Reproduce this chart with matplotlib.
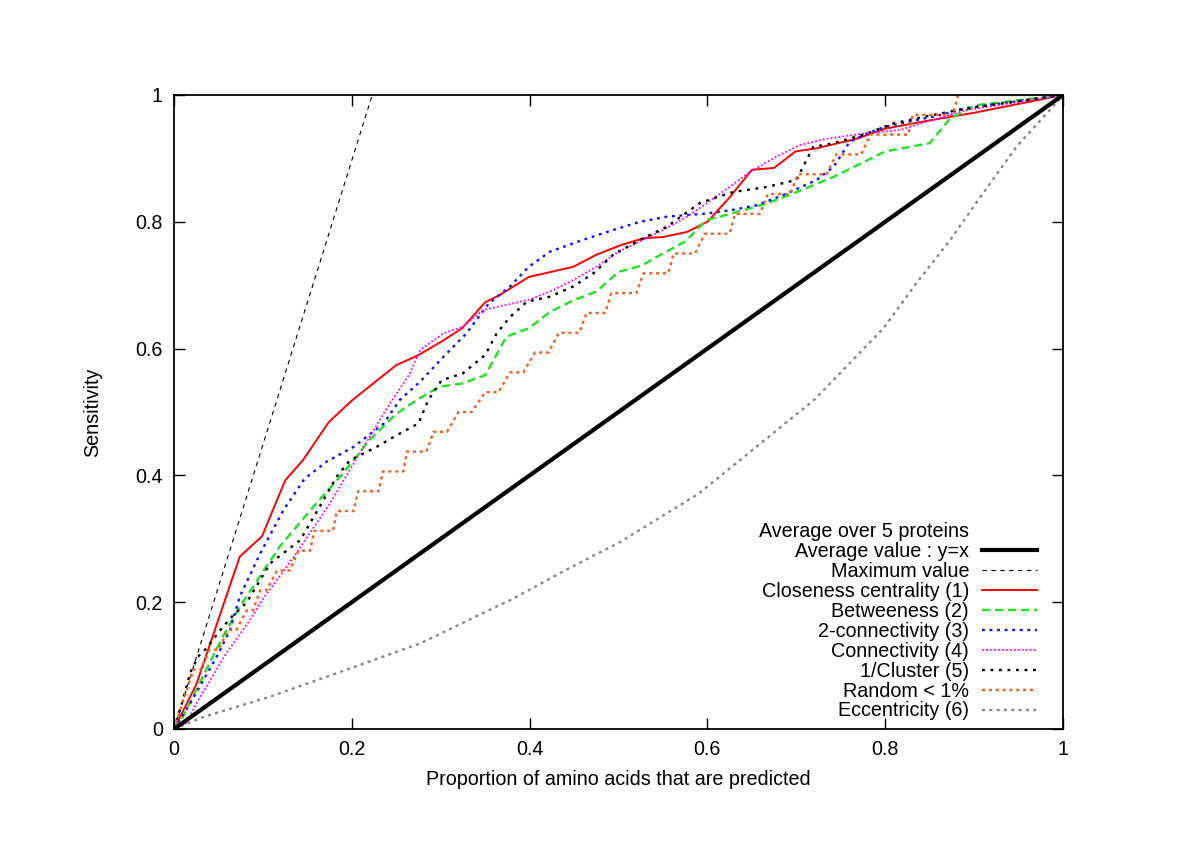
import numpy as np
import matplotlib
matplotlib.use("Agg")
import matplotlib.pyplot as plt

plt.rcParams['font.family'] = ['Liberation Sans', 'DejaVu Sans']

# data
diag_x = [0, 1]
diag_y = [0, 1]

max_x = [0, 0.223]
max_y = [0, 1.0]

close_x = [0, 0.025, 0.074, 0.099, 0.125, 0.145, 0.174, 0.2, 0.224, 0.25, 0.274, 0.303, 0.324, 0.35, 0.367,
           0.399, 0.449, 0.475, 0.502, 0.528, 0.55, 0.577, 0.6, 0.624, 0.65, 0.675, 0.699, 0.723, 0.768, 0.8,
           0.85, 0.9, 1.0]
close_y = [0, 0.07, 0.272, 0.304, 0.392, 0.424, 0.484, 0.518, 0.545, 0.574, 0.589, 0.613, 0.632, 0.673, 0.685,
           0.713, 0.729, 0.748, 0.763, 0.774, 0.776, 0.784, 0.80, 0.837, 0.882, 0.885, 0.911, 0.916, 0.931, 0.947,
           0.96, 0.972, 1.0]

betw_x = [0, 0.01, 0.025, 0.04, 0.055, 0.074, 0.119, 0.157, 0.19, 0.22, 0.25, 0.273, 0.299, 0.324, 0.35,
          0.374, 0.399, 0.423, 0.449, 0.475, 0.5, 0.526, 0.55, 0.575, 0.599, 0.622, 0.667, 0.697, 0.742, 0.8,
          0.85, 0.873, 0.903, 1.0]
betw_y = [0, 0.019, 0.062, 0.104, 0.146, 0.193, 0.288, 0.351, 0.403, 0.456, 0.497, 0.519, 0.54, 0.545, 0.558,
          0.619, 0.632, 0.658, 0.676, 0.69, 0.721, 0.731, 0.75, 0.769, 0.803, 0.811, 0.829, 0.845, 0.871, 0.911,
          0.924, 0.963, 0.984, 1.0]

conn2_x = [0, 0.018, 0.033, 0.048, 0.063, 0.074, 0.097, 0.123, 0.147, 0.172, 0.202, 0.236, 0.254, 0.277, 0.303,
           0.329, 0.354, 0.378, 0.399, 0.423, 0.453, 0.487, 0.524, 0.554, 0.599, 0.629, 0.655, 0.685, 0.723, 0.742,
           0.76, 0.779, 0.8, 0.854, 0.891, 1.0]
conn2_y = [0, 0.04, 0.077, 0.114, 0.156, 0.209, 0.277, 0.345, 0.395, 0.422, 0.445, 0.482, 0.519, 0.548, 0.587,
           0.624, 0.671, 0.698, 0.729, 0.753, 0.768, 0.784, 0.80, 0.808, 0.813, 0.819, 0.826, 0.842, 0.866, 0.887,
           0.926, 0.939, 0.95, 0.966, 0.979, 1.0]

conn_x = [0, 0.014, 0.025, 0.04, 0.059, 0.082, 0.1, 0.134, 0.175, 0.209, 0.239, 0.265, 0.277, 0.303, 0.324,
          0.348, 0.374, 0.399, 0.423, 0.449, 0.475, 0.5, 0.524, 0.55, 0.577, 0.6, 0.625, 0.648, 0.678, 0.704,
          0.734, 0.775, 0.817, 0.854, 0.891, 1.0]
conn_y = [0, 0.009, 0.04, 0.075, 0.12, 0.165, 0.205, 0.27, 0.355, 0.435, 0.505, 0.56, 0.598, 0.624, 0.634,
          0.661, 0.669, 0.677, 0.69, 0.708, 0.729, 0.753, 0.769, 0.787, 0.808, 0.83, 0.855, 0.879, 0.903, 0.921,
          0.931, 0.939, 0.945, 0.961, 0.976, 1.0]

clus_x = [0, 0.01, 0.018, 0.027, 0.037, 0.052, 0.065, 0.082, 0.108, 0.142, 0.164, 0.183, 0.198, 0.228, 0.25,
          0.275, 0.286, 0.301, 0.325, 0.35, 0.363, 0.378, 0.397, 0.423, 0.449, 0.472, 0.494, 0.524, 0.554, 0.592,
          0.629, 0.667, 0.70, 0.719, 0.742, 0.779, 0.809, 0.835, 0.891, 1.0]
clus_y = [0, 0.046, 0.088, 0.114, 0.128, 0.156, 0.177, 0.2, 0.261, 0.298, 0.351, 0.398, 0.424, 0.445, 0.463,
          0.482, 0.519, 0.55, 0.561, 0.59, 0.624, 0.65, 0.674, 0.682, 0.698, 0.719, 0.748, 0.771, 0.792, 0.83,
          0.847, 0.855, 0.866, 0.918, 0.924, 0.939, 0.955, 0.963, 0.979, 1.0]

# random curve climbs in steps of 1/32
rand_x = [0, 0.022, 0.030, 0.040, 0.050, 0.061, 0.070, 0.082, 0.089, 0.097, 0.104, 0.116, 0.130, 0.140, 0.153,
          0.158, 0.179, 0.183, 0.202, 0.207, 0.230, 0.235, 0.258, 0.262, 0.284, 0.292, 0.307, 0.320, 0.335,
          0.350, 0.365, 0.378, 0.393, 0.406, 0.421, 0.433, 0.456, 0.464, 0.485, 0.492, 0.520, 0.528, 0.556,
          0.562, 0.586, 0.597, 0.625, 0.631, 0.659, 0.668, 0.693, 0.702, 0.734, 0.745, 0.773, 0.783, 0.826,
          0.831, 0.876, 0.882, 1.0]
rand_steps = [0, 3, 3, 4, 4, 5, 5, 6, 6, 7, 7, 8, 8, 9, 9, 10, 10, 11, 11, 12, 12, 13, 13, 14, 14, 15, 15,
              16, 16, 17, 17, 18, 18, 19, 19, 20, 20, 21, 21, 22, 22, 23, 23, 24, 24, 25, 25, 26, 26, 27, 27,
              28, 28, 29, 29, 30, 30, 31, 31, 32, 32]
rand_y = np.array(rand_steps) / 32.0

ecc_x = [0, 0.033, 0.108, 0.183, 0.277, 0.382, 0.441, 0.502, 0.554, 0.59, 0.72, 0.798, 0.835, 0.873, 0.91,
         0.948, 0.985, 1.0]
ecc_y = [0, 0.019, 0.051, 0.088, 0.135, 0.206, 0.251, 0.295, 0.34, 0.371, 0.519, 0.632, 0.703, 0.771, 0.845,
         0.919, 0.976, 1.0]

ticks = [0, 0.2, 0.4, 0.6, 0.8, 1]
tick_labels = ['0', '0.2', '0.4', '0.6', '0.8', '1']

fs = 14.2

fig = plt.figure(figsize=(12, 8.48), dpi=100)
ax = fig.add_axes([174 / 1200, 119 / 848, 889 / 1200, 634 / 848])

# invisible entry used as the key title, like gnuplot does
ax.plot([], [], color='none', label='Average over 5 proteins')
ax.plot(diag_x, diag_y, color='black', lw=3.0, label='Average value : y=x', zorder=3)
ax.plot(max_x, max_y, color='black', lw=0.8, dashes=(4, 4), label='Maximum value')
ax.plot(close_x, close_y, color='#ff0000', lw=1.4, label='Closeness centrality (1)')
ax.plot(betw_x, betw_y, color='#22e022', lw=1.7, dashes=(3.5, 2), label='Betweeness (2)')
ax.plot(conn2_x, conn2_y, color='#1010ff', lw=1.7, dashes=(1.2, 2), label='2-connectivity (3)')
ax.plot(conn_x, conn_y, color='#ff00ff', lw=1.3, dashes=(1, 1.2), label='Connectivity (4)')
ax.plot(clus_x, clus_y, color='black', lw=1.7, dashes=(1.2, 2.4), label='1/Cluster (5)')
ax.plot(rand_x, rand_y, color='#f06020', lw=1.7, dashes=(1.3, 1.6), label='Random < 1%')
ax.plot(ecc_x, ecc_y, color='#888888', lw=1.7, dashes=(1.3, 1.8), label='Eccentricity (6)')

ax.set_xlim(0, 1)
ax.set_ylim(0, 1)
ax.set_xticks(ticks)
ax.set_xticklabels(tick_labels)
ax.set_yticks(ticks)
ax.set_yticklabels(tick_labels)
ax.tick_params(direction='in', length=8, width=1, top=True, right=True, labelsize=fs, pad=8)
for sp in ax.spines.values():
    sp.set_linewidth(1.3)

ax.set_xlabel('Proportion of amino acids that are predicted', fontsize=fs, labelpad=8)
ax.set_ylabel('Sensitivity', fontsize=fs, labelpad=24)

ax.legend(loc='lower right', bbox_to_anchor=(0.982, -0.002), frameon=False, markerfirst=False,
          fontsize=fs, handlelength=2.8, handletextpad=0.65, labelspacing=0.045, borderpad=0)

fig.savefig('out.png', dpi=100)
